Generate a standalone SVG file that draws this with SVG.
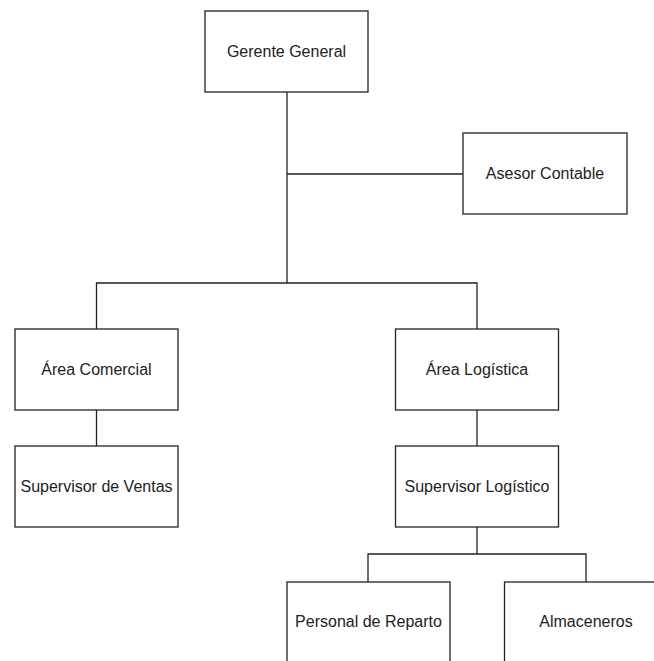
<svg xmlns="http://www.w3.org/2000/svg" width="654" height="661" viewBox="0 0 654 661">
<style>
.box{fill:#ffffff;stroke:#222222;stroke-width:1.3}
.lbl{font-family:"Liberation Sans",Arial,sans-serif;font-size:16px;fill:#222222;text-anchor:middle;dominant-baseline:central}
.conn{fill:none;stroke:#222222;stroke-width:1.3}
</style>
<rect width="654" height="661" fill="#ffffff"/>
<g id="connectors">
<path class="conn" d="M287 92V283"/>
<path class="conn" d="M287 174H463"/>
<path class="conn" d="M96.5 329V283H477V329"/>
<path class="conn" d="M96.5 410V446"/>
<path class="conn" d="M477 410V446"/>
<path class="conn" d="M477 527V554"/>
<path class="conn" d="M368 582V554H586V582"/>
</g>
<g id="gerente-general">
<rect class="box" x="205" y="11" width="163" height="81"/>
<text class="lbl" x="286.5" y="51">Gerente General</text>
</g>
<g id="asesor-contable">
<rect class="box" x="463" y="133" width="164" height="81"/>
<text class="lbl" x="545" y="173.5">Asesor Contable</text>
</g>
<g id="area-comercial">
<rect class="box" x="15" y="329" width="163" height="81"/>
<text class="lbl" x="96.5" y="369.5">Área Comercial</text>
</g>
<g id="supervisor-ventas">
<rect class="box" x="15" y="446" width="163" height="81"/>
<text class="lbl" x="96.5" y="486.5">Supervisor de Ventas</text>
</g>
<g id="area-logistica">
<rect class="box" x="395.5" y="329" width="163" height="81"/>
<text class="lbl" x="477" y="369.5">Área Logística</text>
</g>
<g id="supervisor-logistico">
<rect class="box" x="395.5" y="446" width="163" height="81"/>
<text class="lbl" x="477" y="486.5">Supervisor Logístico</text>
</g>
<g id="personal-reparto">
<rect class="box" x="287" y="582" width="163" height="81"/>
<text class="lbl" x="368.5" y="621.5">Personal de Reparto</text>
</g>
<g id="almaceneros">
<rect class="box" x="504.5" y="582" width="163" height="81"/>
<text class="lbl" x="586" y="621.5">Almaceneros</text>
</g>
</svg>
